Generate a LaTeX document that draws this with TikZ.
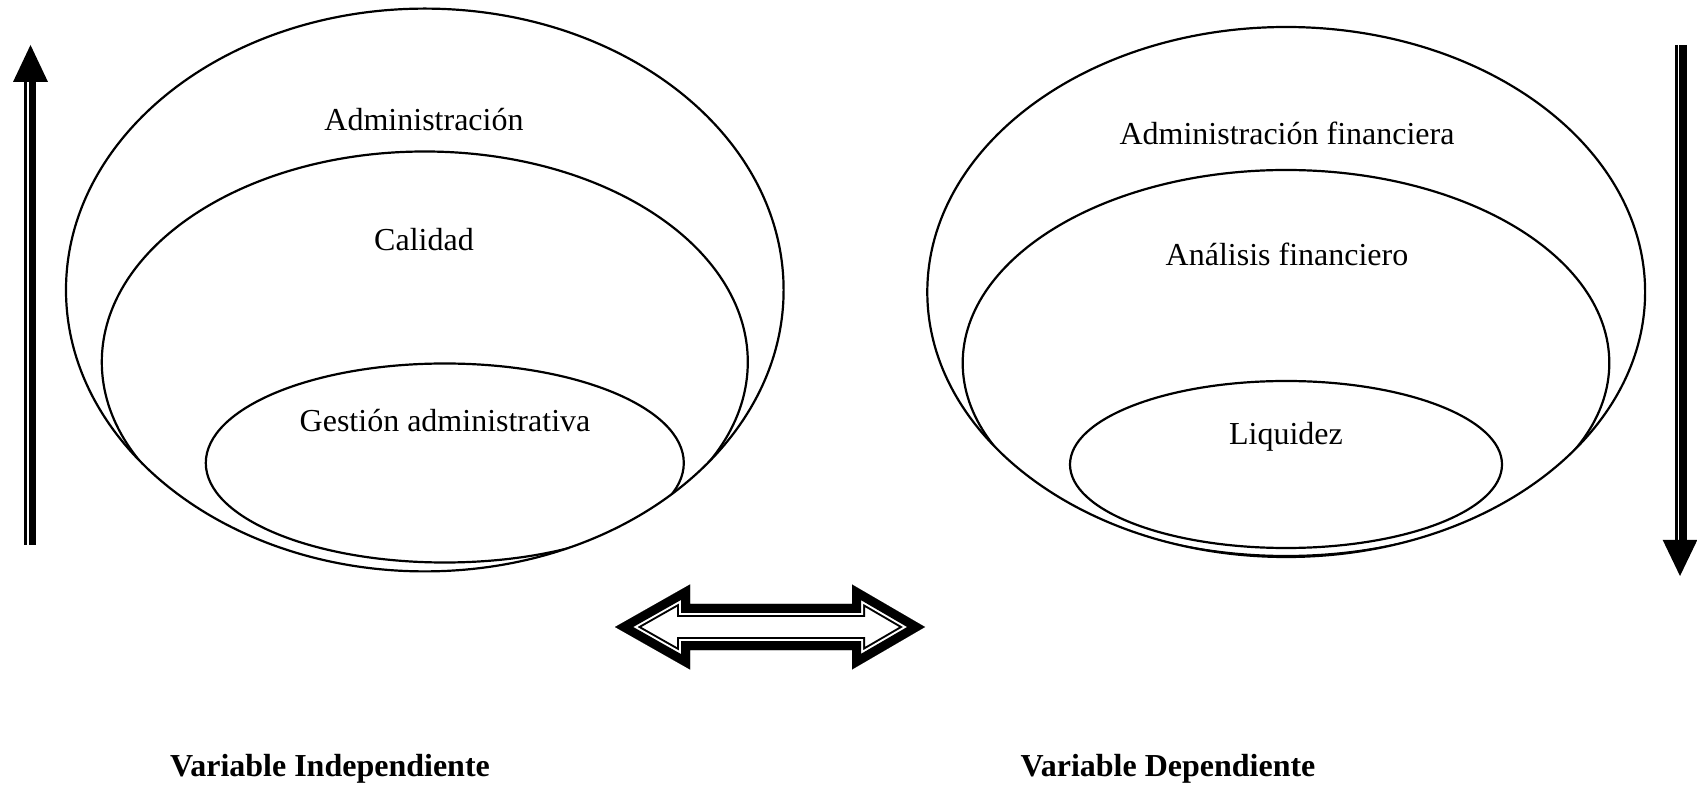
\documentclass[tikz,border=0pt]{standalone}
\usepackage{fontspec}
\setmainfont{Liberation Serif}
\usepackage{tikz}
\usetikzlibrary{calc}

% contorno de la flecha doble
\newcommand{\flechadoble}{(615,627) -- (690,584.5) -- (690,604) -- (852,604) -- (852,584.5)
  -- (925,627) -- (852,669.5) -- (852,650) -- (690,650) -- (690,669.5) -- cycle}

\tikzset{
  elipse/.style={line width=1.1pt},
  texto/.style={font=\fontsize{16}{19}\selectfont, inner sep=0pt},
  titulo/.style={font=\fontsize{16}{19}\selectfont\bfseries, inner sep=0pt}
}

\begin{document}
\begin{tikzpicture}[x=0.5pt, y=-0.5pt]
        \useasboundingbox (0,0) rectangle (1697,785);

        % Elipses de la variable independiente
        \begin{scope}
            \clip (424.8,290) ellipse [x radius=358.8, y radius=281.4];
            \draw[elipse] (424.8,362) ellipse [x radius=323, y radius=210.5];
            \draw[elipse] (444.8,463) ellipse [x radius=239, y radius=99.5];
        \end{scope}
        \draw[elipse] (424.8,290) ellipse [x radius=358.8, y radius=281.4];

        % Elipses de la variable dependiente
        \begin{scope}
            \clip (1286.2,292) ellipse [x radius=358.9, y radius=265];
            \draw[elipse] (1286,363) ellipse [x radius=323.3, y radius=193];
            \draw[elipse] (1286,464.5) ellipse [x radius=216, y radius=83.5];
        \end{scope}
        \draw[elipse] (1286.2,292) ellipse [x radius=358.9, y radius=265];

        % Textos
        \node[texto] (admin) at (424,120) {Administración};
        \node[texto] (calidad) at (424,240) {Calidad};
        \node[texto] (gestion) at (445,421) {Gestión administrativa};
        \node[texto] (adminfin) at (1287,133) {Administración financiera};
        \node[texto] (analisis) at (1287,254) {Análisis financiero};
        \node[texto] (liquidez) at (1286,437) {Liquidez};
        \node[titulo] (indep) at (330,769) {Variable Independiente};
        \node[titulo] (dep) at (1168,769) {Variable Dependiente};

        % Flecha hacia arriba
        \draw[line width=1.2pt] (25.5,545) -- (25.5,82);
        \draw[line width=3.5pt] (32.5,545) -- (32.5,82);
        \fill (13,82) -- (30.5,45) -- (48,82) -- cycle;

        % Flecha hacia abajo
        \draw[line width=1.35pt] (1676.3,45) -- (1676.3,540);
        \draw[line width=3.7pt] (1683,45) -- (1683,540);
        \fill (1662.7,540) -- (1680,576) -- (1697.3,540) -- cycle;

        % Flecha doble
        \begin{scope}
            \clip \flechadoble;
            \draw[line width=13pt] \flechadoble;
            \draw[line width=11pt, white] \flechadoble;
            \draw[line width=9pt] \flechadoble;
        \end{scope}
    \end{tikzpicture}
\end{document}
